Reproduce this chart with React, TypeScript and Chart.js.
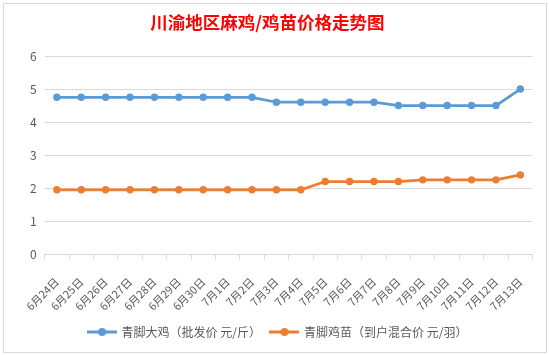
import React, { useEffect, useRef } from "react";
import { Chart, registerables } from "chart.js";

Chart.register(...registerables);

const title = "川渝地区麻鸡/鸡苗价格走势图";
const categories = [
  "6月24日", "6月25日", "6月26日", "6月27日", "6月28日", "6月29日", "6月30日",
  "7月1日", "7月2日", "7月3日", "7月4日", "7月5日", "7月6日", "7月7日",
  "7月8日", "7月9日", "7月10日", "7月11日", "7月12日", "7月13日",
];
const seriesNames = ["青脚大鸡（批发价 元/斤）", "青脚鸡苗（到户混合价 元/羽）"];
const chickenPrice = [4.75, 4.75, 4.75, 4.75, 4.75, 4.75, 4.75, 4.75, 4.75, 4.6, 4.6, 4.6, 4.6, 4.6, 4.5, 4.5, 4.5, 4.5, 4.5, 5.0];
const chickPrice = [1.95, 1.95, 1.95, 1.95, 1.95, 1.95, 1.95, 1.95, 1.95, 1.95, 1.95, 2.2, 2.2, 2.2, 2.2, 2.25, 2.25, 2.25, 2.25, 2.4];
const yTicks = [0, 1, 2, 3, 4, 5, 6];

const BLUE = "#5B9BD5";
const ORANGE = "#ED7D31";
const FONT = "'Noto Sans CJK SC', 'Noto Sans', sans-serif";

function legendIcon(color: string): HTMLCanvasElement {
  const c = document.createElement("canvas");
  c.width = 30;
  c.height = 10;
  const ctx = c.getContext("2d")!;
  ctx.strokeStyle = color;
  ctx.lineWidth = 3;
  ctx.beginPath();
  ctx.moveTo(0, 5);
  ctx.lineTo(30, 5);
  ctx.stroke();
  ctx.fillStyle = color;
  ctx.beginPath();
  ctx.arc(15, 5, 4, 0, Math.PI * 2);
  ctx.fill();
  return c;
}

export default function App() {
  const ref = useRef<HTMLCanvasElement | null>(null);
  useEffect(() => {
    if (!ref.current) return;
    const icons = [legendIcon(BLUE), legendIcon(ORANGE)];
    const chart = new Chart(ref.current, {
      type: "line",
      data: {
        labels: categories,
        datasets: [
          {
            label: seriesNames[0],
            data: chickenPrice,
            borderColor: BLUE,
            backgroundColor: BLUE,
            borderWidth: 2.75,
            pointRadius: 3.7,
            pointBorderWidth: 0,
            pointStyle: "circle",
            tension: 0,
          },
          {
            label: seriesNames[1],
            data: chickPrice,
            borderColor: ORANGE,
            backgroundColor: ORANGE,
            borderWidth: 2.75,
            pointRadius: 3.7,
            pointBorderWidth: 0,
            pointStyle: "circle",
            tension: 0,
          },
        ],
      },
      options: {
        responsive: false,
        animation: false,
        devicePixelRatio: 1,
        layout: { padding: { left: 18, right: 12, top: 0, bottom: 4 } },
        plugins: {
          title: {
            display: true,
            text: title + "\u3000 ",
            color: "#FF0000",
            font: { family: FONT, size: 17.5, weight: "bold" },
            padding: { top: 8, bottom: 23 },
          },
          legend: {
            position: "bottom",
            labels: {
              usePointStyle: true,
              pointStyleWidth: 27,
              color: "#595959",
              font: { family: FONT, size: 12 },
              padding: 10,
              generateLabels: (ch: any) => {
                const items = Chart.defaults.plugins.legend.labels.generateLabels(ch);
                return items.map((it: any, i: number) => ({ ...it, pointStyle: icons[i] }));
              },
            },
          },
          tooltip: { enabled: false },
        },
        scales: {
          x: {
            type: "category",
            offset: true,
            afterFit: (scale: any) => {
              scale.height -= 13;
            },
            grid: {
              display: true,
              drawOnChartArea: false,
              drawTicks: true,
              tickLength: 5,
              color: "#D9D9D9",
              offset: true,
            },
            border: { display: true, color: "#D9D9D9" },
            ticks: {
              autoSkip: false,
              maxRotation: 45,
              minRotation: 45,
              color: "#595959",
              font: { family: FONT, size: 11 },
              padding: 16,
            },
          },
          y: {
            min: 0,
            max: 6,
            afterBuildTicks: (axis: any) => {
              axis.ticks = yTicks.map((v) => ({ value: v }));
            },
            grid: { color: "#D9D9D9", drawTicks: false },
            border: { display: false },
            ticks: {
              color: "#595959",
              font: { family: FONT, size: 12 },
              padding: 8,
            },
          },
        },
      },
    } as any);
    return () => chart.destroy();
  }, []);
  return (
    <div style={{ position: "fixed", left: 0, top: 0, width: 549, height: 355, background: "#fff" }}>
      <div
        style={{
          position: "absolute",
          left: 3,
          top: 3,
          width: 542,
          height: 348,
          border: "1px solid #D9D9D9",
          background: "#fff",
        }}
      >
        <canvas ref={ref} width={542} height={348} style={{ display: "block" }} />
      </div>
    </div>
  );
}
